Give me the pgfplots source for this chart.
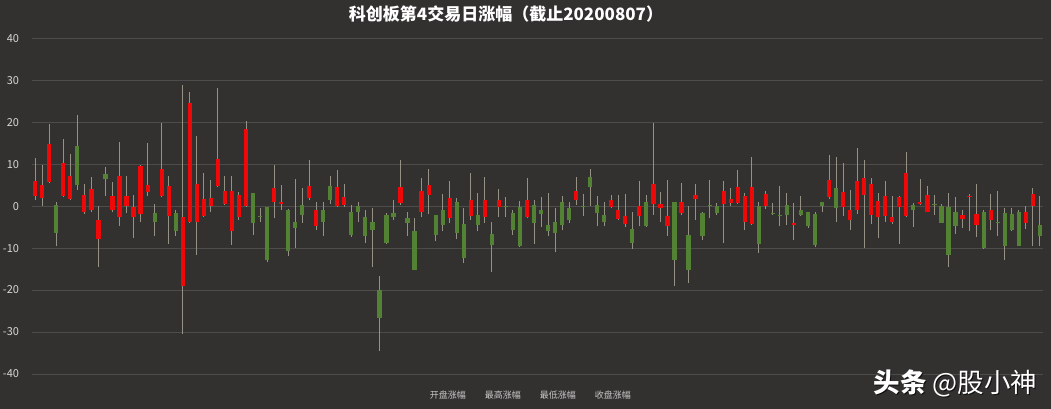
\documentclass[border=0pt]{standalone}
\usepackage{pgfplots}
\pgfplotsset{compat=1.18}
\usepackage{pgfplotstable}
\usepackage{fontspec}
\newfontfamily\cjk{Noto Sans CJK SC}

\definecolor{bgc}{RGB}{51,49,48}
\definecolor{gridc}{RGB}{78,76,74}
\definecolor{tickc}{RGB}{215,215,215}
\definecolor{legc}{RGB}{200,200,200}
\definecolor{wick}{RGB}{150,145,133}
\definecolor{upc}{RGB}{238,8,8}
\definecolor{downc}{RGB}{84,130,53}

% rising candles: x, open, high, low, close (percent change)
\pgfplotstableread{
x o h l c
1 2.3 11.4 1.5 6.0
2 1.9 9.8 0.0 5.0
3 5.8 19.5 5.4 14.9
5 2.5 16.1 2.1 10.2
6 1.8 12.5 1.4 7.2
8 -1.5 5.3 -1.8 2.7
9 -0.9 6.9 -1.3 4.0
10 -7.9 0.1 -14.4 -3.3
12 -1.0 5.7 -1.5 2.5
13 -2.6 15.4 -4.8 7.2
14 0.1 7.2 -1.7 2.3
15 -2.6 2.7 -7.6 -0.3
16 -1.8 9.8 -3.7 9.6
17 3.3 15.0 2.3 5.1
19 2.5 19.8 2.1 8.8
20 -2.3 7.1 -9.0 4.7
22 -19.1 28.9 -30.4 -2.7
23 -3.7 27.3 -4.0 24.5
24 -3.7 16.6 -11.6 5.3
25 -2.3 8.0 -2.6 1.7
26 0.1 6.3 -1.5 1.9
27 4.7 28.1 4.5 11.2
28 0.6 7.1 0.3 3.5
29 -6.0 7.2 -9.2 3.5
30 -2.5 3.3 -3.3 2.7
31 0.1 20.2 -0.1 18.3
35 0.9 9.8 -2.9 4.3
36 0.6 5.1 -1.0 1.1
40 1.9 11.0 1.5 4.8
41 -4.8 1.1 -5.8 -0.9
44 0.1 8.7 -0.1 4.5
45 0.3 5.3 -0.1 2.1
53 0.7 11.0 0.3 4.5
56 -1.3 6.7 -2.6 3.5
57 2.7 8.8 -1.8 5.1
60 -2.9 6.1 -3.9 1.9
63 -2.3 8.0 -3.3 1.5
65 -2.6 6.9 -4.0 1.5
67 -0.2 4.0 -2.6 1.5
71 -2.5 6.7 -2.9 1.5
78 1.5 6.9 0.3 3.5
83 -0.2 2.7 -0.5 1.5
84 -3.1 2.7 -3.3 -0.9
85 -4.2 2.9 -5.0 -2.3
87 -2.3 6.1 -4.8 0.1
89 0.6 19.9 -2.1 5.3
90 -0.5 3.3 -3.7 0.6
91 -4.8 6.3 -7.1 -2.3
93 -1.7 5.6 -2.1 0.9
95 1.7 5.3 -3.3 2.7
99 0.6 6.1 -8.7 3.5
100 0.7 4.3 0.1 1.7
101 0.7 8.7 0.6 4.5
102 -3.7 3.1 -5.8 2.3
103 -4.2 11.7 -4.4 4.5
105 0.1 3.5 -0.7 2.9
109 -4.4 0.7 -8.0 -4.0
114 2.1 12.2 1.7 6.3
116 -0.1 10.2 -2.3 3.3
117 -3.4 3.9 -5.6 -1.0
118 -0.9 13.8 -1.8 6.1
119 2.7 10.9 -10.0 6.7
120 -2.1 6.7 -4.2 5.3
121 -2.6 3.1 -7.6 1.3
122 -2.3 6.1 -3.7 2.5
123 -3.7 2.5 -4.2 -2.6
124 -0.1 2.5 -9.0 2.1
125 -2.3 13.0 -2.5 8.0
127 0.5 6.4 0.3 0.9
128 -1.3 4.8 -1.5 2.7
133 -3.1 -0.9 -5.2 -2.1
134 2.1 2.9 -6.0 2.4
135 -4.4 5.3 -7.4 -1.8
137 -3.3 2.9 -5.6 -0.9
142 -4.0 0.1 -5.5 -1.5
143 0.1 4.3 -9.4 2.9
}\updata

% falling candles: x, open, high, low, close (percent change)
\pgfplotstableread{
x o h l c
4 0.2 0.9 -9.6 -6.5
7 14.4 21.8 3.9 5.1
11 7.6 9.4 2.3 6.4
18 -1.7 0.6 -7.2 -3.7
21 -1.7 -0.9 -7.2 -6.0
32 3.1 3.2 -6.8 -4.0
33 -2.3 -0.5 -3.7 -2.6
34 -0.2 -0.1 -13.4 -12.8
37 -0.9 -0.7 -11.8 -10.8
38 -3.7 6.4 -10.0 -5.2
39 0.3 4.3 -4.0 -2.1
42 -1.0 1.1 -7.2 -3.7
43 4.8 7.1 0.6 1.5
46 -1.5 0.3 -7.4 -6.8
47 0.1 1.1 -3.7 -1.3
48 -2.5 -0.8 -8.8 -7.0
49 -3.7 -0.5 -14.4 -5.6
50 -19.9 -16.7 -34.6 -26.7
51 -2.1 -1.7 -9.0 -8.7
52 -1.7 1.5 -3.3 -2.6
54 -2.9 -1.3 -7.2 -3.9
55 -6.0 -2.9 -15.3 -15.2
58 -2.1 -2.0 -8.4 -6.8
59 -0.9 2.9 -6.0 -4.4
61 1.1 1.9 -7.9 -6.4
62 -4.2 -0.5 -13.6 -12.4
64 -2.2 3.1 -6.0 -4.5
66 -6.6 -3.7 -15.6 -9.2
68 0.1 2.1 -2.6 -0.1
69 -1.7 -0.9 -6.8 -5.8
70 -0.1 1.3 -9.8 -9.6
72 0.3 1.5 -9.0 -4.0
73 -0.9 2.1 -5.0 -1.8
74 -4.4 3.1 -7.2 -6.0
75 -3.7 -0.5 -11.0 -6.4
76 1.1 2.5 -5.8 -4.4
77 -0.5 0.9 -3.9 -3.3
79 0.1 2.9 -2.3 -0.1
80 6.9 8.8 0.1 4.5
81 0.3 2.5 -4.8 -1.7
82 -2.1 0.9 -4.8 -3.7
86 -5.5 -1.3 -10.2 -8.8
88 1.1 2.7 -5.0 -4.8
92 0.9 1.1 -19.0 -12.8
94 -6.8 0.1 -18.3 -15.2
96 -1.7 -1.3 -8.0 -7.2
97 0.2 6.3 -2.9 0.0
98 0.1 0.7 -2.1 -1.7
104 0.1 1.1 -11.2 -9.0
106 -1.6 0.7 -2.1 -1.8
107 -2.2 4.8 -4.8 -2.4
108 0.3 3.1 -4.4 -2.1
110 -0.9 2.3 -2.3 -2.1
111 -1.5 -1.3 -5.2 -4.8
112 -1.8 -1.5 -9.8 -9.2
113 0.9 1.1 -1.5 0.1
115 4.3 11.7 -3.7 -0.5
126 0.3 0.7 -5.0 -0.9
129 0.5 2.7 -2.1 0.2
130 0.1 0.6 -4.0 -3.9
131 -0.1 3.1 -14.4 -11.6
132 -1.5 2.1 -6.6 -4.8
136 -1.3 -1.0 -10.2 -10.0
138 -3.8 3.5 -7.2 -4.0
139 -1.7 -0.5 -12.9 -9.6
140 -1.8 -0.5 -6.0 -5.6
141 -1.5 -1.0 -9.6 -9.4
144 -4.4 2.5 -9.4 -7.2
}\downdata

\pgfplotsset{
  wickbar/.style={draw=none, forget plot,
    error bars/.cd, y dir=plus, y explicit, error mark=none,
    error bar style={draw=wick, line width=0.9pt, line cap=butt}},
  bodybar/.style={draw=none, forget plot,
    error bars/.cd, y dir=plus, y explicit, error mark=none,
    error bar style={draw=#1, line width=4.2pt, line cap=butt}},
}

\begin{document}
\begin{tikzpicture}[x=1pt,y=1pt]
\fill[bgc] (0,0) rectangle (1051,409);
\begin{axis}[
  at={(31.7pt,35pt)}, anchor=south west,
  scale only axis, width=1011.6pt, height=335.7pt,
  xmin=0.5, xmax=144.5, ymin=-40, ymax=40,
  axis line style={draw=none},
  xtick=\empty,
  ytick={-40,-30,...,40},
  ymajorgrids,
  grid style={draw=gridc, line width=0.8pt},
  major tick length=0pt,
  tick label style={font=\cjk\fontsize{11}{13}\selectfont, text=tickc},
  /pgf/number format/assume math mode=true,
  yticklabel style={anchor=east, inner sep=0pt, xshift=-12.5pt},
  clip=false,
  legend columns=4,
  legend style={at={(axis description cs:0.493,-0.063)}, anchor=center,
    draw=none, fill=none, text=legc,
    font=\cjk\fontsize{9}{11}\selectfont,
    /tikz/every even column/.append style={column sep=15pt}},
]
% high-low wicks
\addplot[wickbar] table[x=x, y=l, y error expr=\thisrow{h}-\thisrow{l}] {\updata};
\addplot[wickbar] table[x=x, y=l, y error expr=\thisrow{h}-\thisrow{l}] {\downdata};
% open-close bodies
\addplot[bodybar=upc] table[x=x, y=o, y error expr=\thisrow{c}-\thisrow{o}] {\updata};
\addplot[bodybar=downc] table[x=x, y=c, y error expr=\thisrow{o}-\thisrow{c}] {\downdata};

\addlegendimage{empty legend}\addlegendentry{开盘涨幅}
\addlegendimage{empty legend}\addlegendentry{最高涨幅}
\addlegendimage{empty legend}\addlegendentry{最低涨幅}
\addlegendimage{empty legend}\addlegendentry{收盘涨幅}
\end{axis}

\node[font=\cjk\bfseries\fontsize{17}{20}\selectfont, text=white] at (506,395) {科创板第4交易日涨幅（截止20200807）};

\node[font=\cjk\fontsize{26.5}{30}\selectfont, text=black, opacity=0.7, anchor=west] at (871.2,24.8) {\textbf{头条} @股小神};
\node[font=\cjk\fontsize{26.5}{30}\selectfont, text=white, anchor=west] at (870,26) {\textbf{头条} @股小神};
\end{tikzpicture}
\end{document}
